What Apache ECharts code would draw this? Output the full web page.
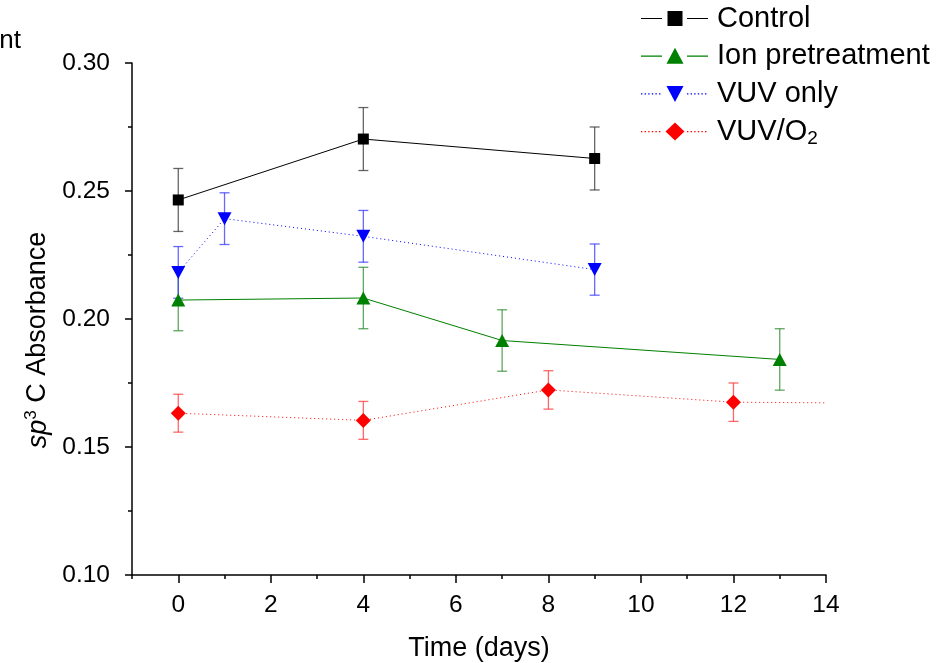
<!DOCTYPE html>
<html>
<head>
<meta charset="utf-8">
<script src="https://cdn.jsdelivr.net/npm/echarts@6/dist/echarts.min.js"></script>
<style>
html,body{margin:0;padding:0;background:#fff;}
#chart{width:950px;height:663px;}
</style>
</head>
<body>
<div id="chart"></div>
<script>
// ---- data ----
const seriesNames = ['Control', 'Ion pretreatment', 'VUV only', 'VUV/O2'];
const controlDays = [0, 4, 9];
const controlVals = [0.2465, 0.2703, 0.2627];
const controlErr  = [0.0123, 0.0123, 0.0123];

const ionDays = [0, 4, 7, 13];
const ionVals = [0.2074, 0.2082, 0.1916, 0.1842];
const ionErr  = [0.0120, 0.0120, 0.0120, 0.0120];

const vuvDays = [0, 1, 4, 9];
const vuvVals = [0.2182, 0.2392, 0.2323, 0.2193];
const vuvErr  = [0.0101, 0.0101, 0.0101, 0.0100];

const o2Days = [0, 4, 8, 12, 16];
const o2Vals = [0.1632, 0.1604, 0.1723, 0.1675, 0.1670];
const o2Err  = [0.0074, 0.0074, 0.0075, 0.0075, null];

const xMajorTicks = [0, 2, 4, 6, 8, 10, 12, 14];
const xMinorTicks = [-1, 1, 3, 5, 7, 9, 11, 13];

const FONT = "'Liberation Sans', Arial, sans-serif";

function pts(xs, ys) { return xs.map((x, i) => [x, ys[i]]); }
function errPts(xs, ys, es) {
  const out = [];
  xs.forEach((x, i) => { if (es[i] != null) out.push([x, ys[i] - es[i], ys[i] + es[i]]); });
  return out;
}

// legend icon: "—marker—" with gaps, drawn as a filled path (box 71 x 18)
const LW = 71, LH = 18;
function segPath(x0, x1, dotted) {
  let s = '';
  if (!dotted) {
    s += `M${x0},8.4 L${x1},8.4 L${x1},9.6 L${x0},9.6 Z `;
  } else {
    for (let x = x0; x < x1; x += 3.6) {
      s += `M${x},8.4 L${x + 1.4},8.4 L${x + 1.4},9.6 L${x},9.6 Z `;
    }
  }
  return s;
}
function legendIcon(marker, dotted) {
  let s = `M0,0 Z M${LW},${LH} Z `;
  s += segPath(0, 21, dotted);
  s += segPath(46, 67, dotted);
  if (marker === 'square') s += 'M26.5,1.5 L41.5,1.5 L41.5,16.5 L26.5,16.5 Z';
  if (marker === 'up') s += 'M25.5,16.5 L34,0.5 L42.5,16.5 Z';
  if (marker === 'down') s += 'M25.5,1 L42.5,1 L34,17 Z';
  if (marker === 'diamond') s += 'M34,0 L43.5,9 L34,18 L24.5,9 Z';
  return 'path://' + s;
}

function errSeries(name, data, color) {
  return {
    type: 'custom',
    name: name + '_err',
    data: data,
    z: 1,
    silent: true,
    clip: true,
    renderItem: function (params, api) {
      const x = api.value(0);
      const lo = api.coord([x, api.value(1)]);
      const hi = api.coord([x, api.value(2)]);
      const w = 5;
      const style = { stroke: color, lineWidth: 1.3, opacity: 0.75 };
      return {
        type: 'group',
        children: [
          { type: 'line', shape: { x1: lo[0], y1: lo[1], x2: hi[0], y2: hi[1] }, style: style },
          { type: 'line', shape: { x1: lo[0] - w, y1: lo[1], x2: lo[0] + w, y2: lo[1] }, style: style },
          { type: 'line', shape: { x1: hi[0] - w, y1: hi[1], x2: hi[0] + w, y2: hi[1] }, style: style }
        ]
      };
    }
  };
}

function lineSeries(name, data, color, symbol, size, type) {
  return {
    type: 'line',
    name: name,
    data: data,
    symbol: symbol,
    symbolSize: size,
    showAllSymbol: true,
    clip: true,
    z: 3,
    itemStyle: { color: color, borderWidth: 0 },
    lineStyle: { color: color, width: 1, type: type },
    emphasis: { disabled: true },
    animation: false
  };
}

const chart = echarts.init(document.getElementById('chart'), null, { renderer: 'canvas' });
chart.setOption({
  animation: false,
  backgroundColor: '#fff',
  grid: { left: 132, right: 124, top: 63, bottom: 88, containLabel: false, outerBoundsMode: 'none' },
  legend: {
    orient: 'vertical',
    left: 641,
    top: 4,
    padding: 0,
    itemWidth: LW,
    itemHeight: LH,
    itemGap: 8.7,
    itemStyle: { borderWidth: 0 },
    data: [
      { name: 'Control', icon: legendIcon('square', false) },
      { name: 'Ion pretreatment', icon: legendIcon('up', false) },
      { name: 'VUV only', icon: legendIcon('down', true) },
      { name: 'VUV/O2', icon: legendIcon('diamond', true) }
    ],
    textStyle: {
      fontFamily: FONT, fontSize: 29, color: '#000',
      rich: {
        sub: { fontFamily: FONT, fontSize: 19, color: '#000', verticalAlign: 'bottom', padding: [15, 0, 0, 0] }
      }
    },
    formatter: function (n) { return n === 'VUV/O2' ? 'VUV/O{sub|2}' : n; }
  },
  xAxis: [{
    type: 'value', min: -1, max: 14,
    position: 'bottom',
    axisLine: { show: true, onZero: false, lineStyle: { color: '#000', width: 1.5 } },
    axisTick: { show: true, inside: false, length: 8, customValues: xMajorTicks, lineStyle: { color: '#000', width: 1.5 } },
    axisLabel: { show: true, customValues: xMajorTicks, margin: 18, color: '#000', fontFamily: FONT, fontSize: 24.5 },
    splitLine: { show: false },
    name: 'Time (days)', nameLocation: 'middle', nameGap: 60,
    nameTextStyle: { fontFamily: FONT, fontSize: 27, color: '#000' }
  }, {
    type: 'value', min: -1, max: 14,
    position: 'bottom',
    axisLine: { show: false },
    axisTick: { show: true, inside: false, length: 4, customValues: xMinorTicks, lineStyle: { color: '#000', width: 1.5 } },
    axisLabel: { show: false },
    splitLine: { show: false }
  }],
  yAxis: {
    type: 'value', min: 0.1, max: 0.3, interval: 0.05,
    axisLine: { show: true, onZero: false, lineStyle: { color: '#000', width: 1.5 } },
    axisTick: { show: true, inside: false, length: 7, lineStyle: { color: '#000', width: 1.5 } },
    minorTick: { show: true, splitNumber: 2, length: 4, lineStyle: { color: '#000', width: 1.5 } },
    axisLabel: { margin: 22, color: '#000', fontFamily: FONT, fontSize: 24.5, formatter: v => v.toFixed(2) },
    splitLine: { show: false }
  },
  graphic: [{
    type: 'text',
    x: 38, y: 340,
    rotation: Math.PI / 2,
    style: {
      text: '{i|sp}{sup|3}{n| C Absorbance}',
      align: 'center', verticalAlign: 'middle',
      rich: {
        i: { fontFamily: FONT, fontSize: 27, fontStyle: 'italic', fill: '#000', color: '#000' },
        sup: { fontFamily: FONT, fontSize: 17, fill: '#000', color: '#000', verticalAlign: 'top', padding: [0, 0, 13, 0] },
        n: { fontFamily: FONT, fontSize: 27, fill: '#000', color: '#000' }
      }
    }
  }, {
    type: 'text',
    x: 21, y: 41,
    style: { text: 'nt', align: 'right', verticalAlign: 'middle', fontFamily: FONT, fontSize: 26, fill: '#000' }
  }],
  series: [
    errSeries('Control', errPts(controlDays, controlVals, controlErr), '#333333'),
    errSeries('Ion pretreatment', errPts(ionDays, ionVals, ionErr), '#2a8a2a'),
    errSeries('VUV only', errPts(vuvDays, vuvVals, vuvErr), '#3535ff'),
    errSeries('VUV/O2', errPts(o2Days, o2Vals, o2Err), '#ff3535'),
    lineSeries('Control', pts(controlDays, controlVals), '#000000', 'rect', 11, 'solid'),
    lineSeries('Ion pretreatment', pts(ionDays, ionVals), '#008000', 'triangle', [14, 13], 'solid'),
    lineSeries('VUV only', pts(vuvDays, vuvVals), '#0000ff', 'path://M0,0 L10,0 L5,9 Z', [14, 13], [1, 3]),
    lineSeries('VUV/O2', pts(o2Days, o2Vals), '#ff0000', 'diamond', [15, 15], [1, 3])
  ]
});
</script>
</body>
</html>
